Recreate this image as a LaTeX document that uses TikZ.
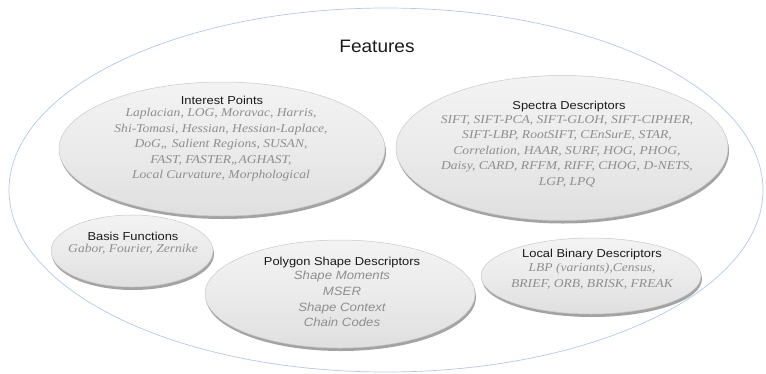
\documentclass[tikz,border=0pt]{standalone}
\usepackage{fontspec}
\setmainfont{Liberation Serif}
\setsansfont{Liberation Sans}
\usetikzlibrary{shapes.geometric,shadows}

\definecolor{itemgray}{HTML}{8E8E8E}
\definecolor{titleblack}{HTML}{1A1A1A}
\definecolor{outerblue}{HTML}{B4C8E4}
\definecolor{blobfill}{HTML}{EBEBEB}
\definecolor{blobrim}{HTML}{C8C8C8}

\tikzset{
  blob/.style={ellipse, inner sep=0pt, draw=blobrim, line width=0.5pt,
    top color=blobfill!60!white, bottom color=blobfill!95!black,
    middle color=blobfill,
    drop shadow={shadow xshift=1pt, shadow yshift=-3pt, fill=black!45, opacity=0.8}},
  heading/.style={font=\sffamily\fontsize{11.5}{13}\selectfont\addfontfeatures{FakeStretch=1.12},
    text=titleblack, inner sep=0pt},
  items/.style={font=\itshape\fontsize{12}{15.6}\selectfont\addfontfeatures{FakeStretch=1.13},
    text=itemgray, align=center, inner sep=0pt},
  sfitems/.style={font=\sffamily\itshape\fontsize{12}{15.6}\selectfont\addfontfeatures{FakeStretch=1.1},
    text=itemgray, align=center, inner sep=0pt},
}

\begin{document}
\begin{tikzpicture}[x=1pt,y=-1pt]
  \useasboundingbox (0,0) rectangle (766,373);

  % outer container
  \draw[outerblue, line width=0.7pt] (386,190) ellipse [x radius=377, y radius=182];
  \node[font=\sffamily\fontsize{18}{20}\selectfont\addfontfeatures{FakeStretch=1.06},
    text=titleblack, inner sep=0pt] (features) at (377,46) {Features};

  % category ellipses
  \node[blob, minimum width=326pt, minimum height=134pt] (ip) at (222,149) {};
  \node[blob, minimum width=332pt, minimum height=145pt] (sd) at (562,148) {};
  \node[blob, minimum width=162pt, minimum height=72pt] (bf) at (132,251) {};
  \node[blob, minimum width=270pt, minimum height=108pt] (ps) at (340,294) {};
  \node[blob, minimum width=220pt, minimum height=76pt] (lb) at (591,276) {};

  % Interest Points
  \node[heading] (iph) at (222,100) {Interest Points};
  \node[items, anchor=north] (ipt) at (221,108) {Laplacian, LOG, Moravac, Harris,\\
    Shi-Tomasi, Hessian, Hessian-Laplace,\\
    DoG,, Salient Regions, SUSAN,\\
    FAST, FASTER,,AGHAST,\\
    Local Curvature, Morphological};

  % Spectra Descriptors
  \node[heading] (sdh) at (569,107) {Spectra Descriptors};
  \node[items, anchor=north] (sdt) at (567,115) {SIFT, SIFT-PCA, SIFT-GLOH, SIFT-CIPHER,\\
    SIFT-LBP, RootSIFT, CEnSurE, STAR,\\
    Correlation, HAAR, SURF, HOG, PHOG,\\
    Daisy, CARD, RFFM, RIFF, CHOG, D-NETS,\\
    LGP, LPQ};

  % Basis Functions
  \node[heading] (bfh) at (133,236) {Basis Functions};
  \node[items, anchor=north] (bft) at (133,244) {Gabor, Fourier, Zernike};

  % Polygon Shape Descriptors
  \node[heading] (psh) at (342,263) {Polygon Shape Descriptors};
  \node[sfitems, anchor=north] (pst) at (342,271) {Shape Moments\\
    MSER\\
    Shape Context\\
    Chain Codes};

  % Local Binary Descriptors
  \node[heading] (lbh) at (592,255) {Local Binary Descriptors};
  \node[items, anchor=north] (lbt) at (592,263) {LBP (variants),Census,\\
    BRIEF, ORB, BRISK, FREAK};
\end{tikzpicture}
\end{document}
